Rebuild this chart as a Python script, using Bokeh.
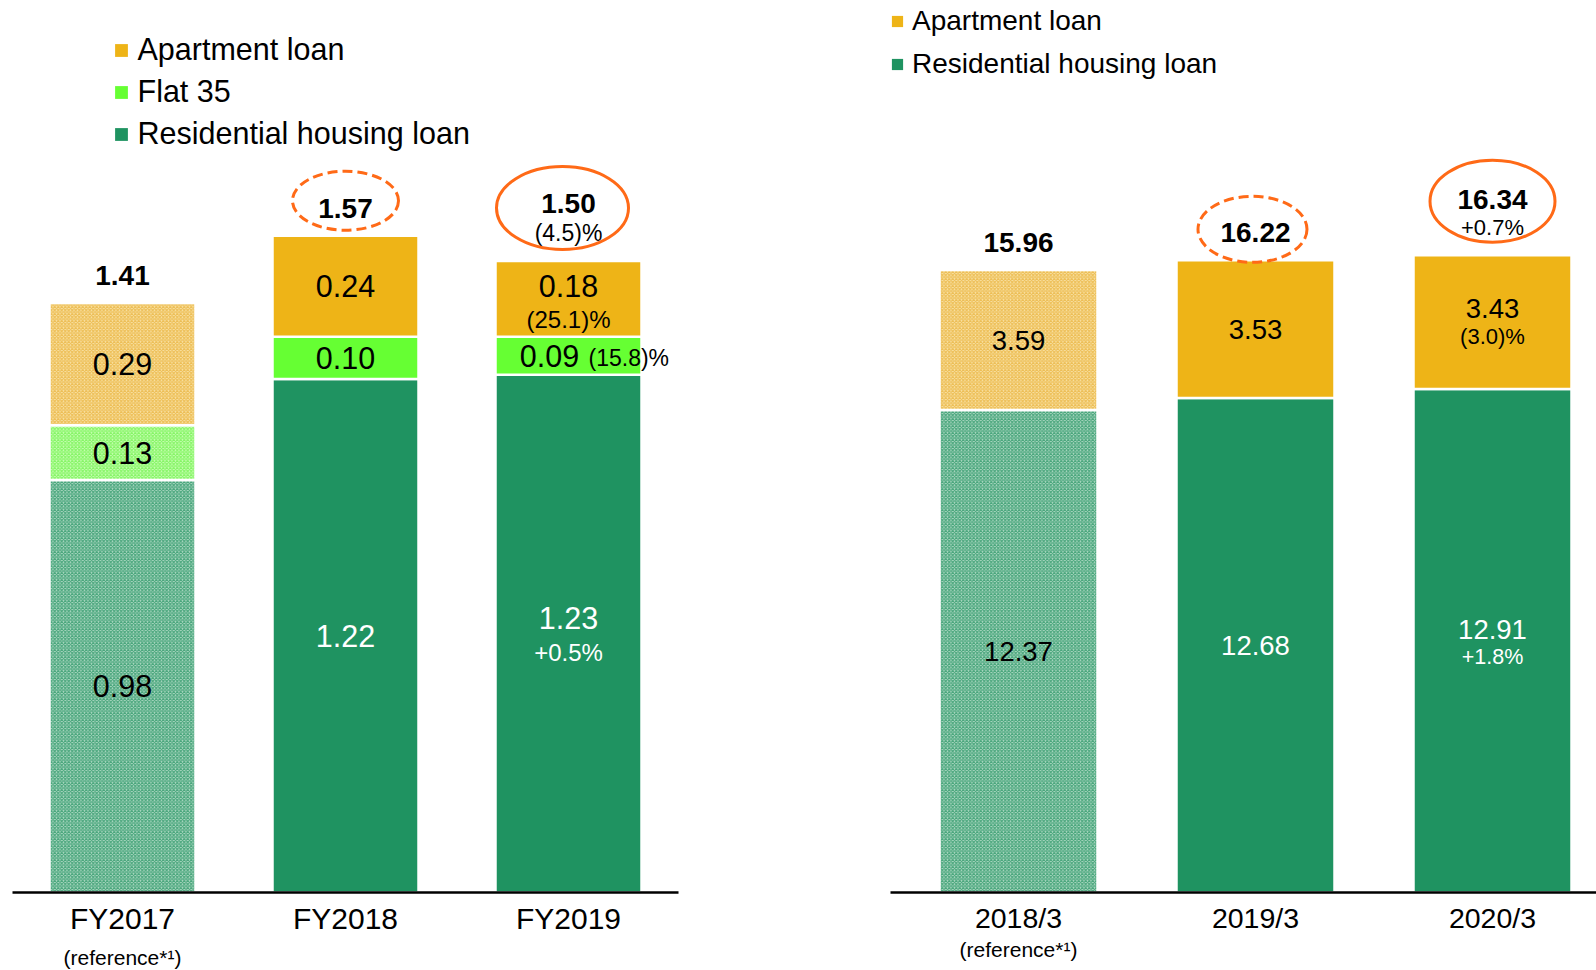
from bokeh.plotting import figure
from bokeh.models import Range1d, FixedTicker, Legend, LegendItem, LinearAxis, ColumnDataSource
from bokeh.layouts import row
from bokeh.embed import file_html
from bokeh.resources import INLINE
from bokeh.core.properties import value

FONT = "Liberation Sans"

# ---------------- data: left panel (fiscal-year amounts) ----------------
fy_labels = ["FY2017", "FY2018", "FY2019"]
fy_resid = [0.98, 1.22, 1.23]
fy_flat35 = [0.13, 0.10, 0.09]
fy_apt = [0.29, 0.24, 0.18]
fy_total_text = ["1.41", "1.57", "1.50"]
fy_resid_chg = ["", "", "+0.5%"]
fy_flat35_chg = ["", "", "(15.8)%"]
fy_apt_chg = ["", "", "(25.1)%"]
fy_total_chg = ["", "", "(4.5)%"]

# ---------------- data: right panel (balances) ----------------
bal_labels = ["2018/3", "2019/3", "2020/3"]
bal_resid = [12.37, 12.68, 12.91]
bal_apt = [3.59, 3.53, 3.43]
bal_total_text = ["15.96", "16.22", "16.34"]
bal_resid_chg = ["", "", "+1.8%"]
bal_apt_chg = ["", "", "(3.0)%"]
bal_total_chg = ["", "", "+0.7%"]

reference_idx = [0]            # reference year drawn with a hatched fill
reference_note = "(reference*¹)"

GREEN = "#1F9361"
GOLD = "#EEB417"
LIME = "#66FF33"
ORANGE = "#FF6A17"
GREEN_L, GREEN_H = "#B2DBC6", "#49A67C"
GOLD_L, GOLD_H = "#F9E3A8", "#EDBE55"
LIME_L, LIME_H = "#CCFFB8", "#86F566"

# ---------------- layout constants ----------------
FRAME_H = 892
L_PPU = 421.0
R_PPU = 39.0
L_YMAX = FRAME_H / L_PPU
R_YMAX = FRAME_H / R_PPU
L_PPX = 223.0
R_PPX = 237.0


def make_fig(frame_w, bl, br, xr, yr, ticks, labels, tick_size, note_size, note_standoff):
    p = figure(frame_width=frame_w, frame_height=FRAME_H, x_range=xr, y_range=yr,
               y_axis_location=None, output_backend="svg", toolbar_location=None,
               min_border_left=bl, min_border_right=br, min_border_top=0,
               min_border_bottom=70)
    p.outline_line_color = None
    p.xgrid.visible = False
    p.ygrid.visible = False
    ax = p.xaxis[0]
    ax.ticker = FixedTicker(ticks=ticks)
    ax.major_label_overrides = {t: s for t, s in zip(ticks, labels)}
    ax.axis_line_color = "black"
    ax.axis_line_width = 2.5
    ax.major_tick_line_color = None
    ax.minor_tick_line_color = None
    ax.major_tick_out = 0
    ax.major_tick_in = 0
    ax.major_label_text_font = FONT
    ax.major_label_text_font_size = tick_size
    ax.major_label_text_color = "black"
    ax.major_label_standoff = 9
    # second row of category labels: the reference-year note
    note_ax = LinearAxis(ticker=FixedTicker(ticks=[ticks[i] for i in reference_idx]),
                         major_label_overrides={ticks[i]: reference_note for i in reference_idx},
                         axis_line_color=None, major_tick_line_color=None,
                         minor_tick_line_color=None, major_tick_out=0, major_tick_in=0,
                         major_label_text_font=FONT, major_label_text_font_size=note_size,
                         major_label_text_color="black", major_label_standoff=note_standoff)
    p.add_layout(note_ax, "below")
    return p


def add_bars(p, xs, segments, width):
    bottoms = [0.0] * len(xs)
    solid_i = [i for i in range(len(xs)) if i not in reference_idx]
    for vals, solid, light, hcol in segments:
        tops = [b + v for b, v in zip(bottoms, vals)]
        p.vbar(x=[xs[i] for i in solid_i], bottom=[bottoms[i] for i in solid_i],
               top=[tops[i] for i in solid_i], width=width,
               fill_color=solid, line_color="white", line_width=2.5)
        p.vbar(x=[xs[i] for i in reference_idx], bottom=[bottoms[i] for i in reference_idx],
               top=[tops[i] for i in reference_idx], width=width,
               fill_color=light, hatch_pattern="diagonal_cross", hatch_color=hcol,
               hatch_scale=3.5, hatch_weight=1.2, line_color="white", line_width=2.5)
        bottoms = tops
    return bottoms


def texts(p, x, y, t, size, color="black", bold=False, align="center"):
    p.text(x=x, y=y, text=t, text_font=value(FONT), text_font_size=size,
           text_color=color, text_align=align, text_baseline="middle",
           text_font_style="bold" if bold else "normal")


def legend_proxy(p, color):
    src = ColumnDataSource(dict(x=[float("nan")], y=[float("nan")]))
    return p.scatter("x", "y", source=src, marker="square", size=0,
                     fill_color=color, line_color=None)


# ======================= LEFT PANEL =======================
xs = list(range(len(fy_labels)))
pL = make_fig(666, 12, 199, Range1d(-110 / L_PPX, 556 / L_PPX), Range1d(0, L_YMAX),
              xs, fy_labels, "30px", "21px", 8)

totL = add_bars(pL, xs, [(fy_resid, GREEN, GREEN_L, GREEN_H),
                         (fy_flat35, LIME, LIME_L, LIME_H),
                         (fy_apt, GOLD, GOLD_L, GOLD_H)], 146 / L_PPX)

# residential labels
res_c = [v / 2 for v in fy_resid]
dy_main = [0, 0, -16]
texts(pL, xs, [c - d / L_PPU for c, d in zip(res_c, dy_main)],
      [f"{v:.2f}" for v in fy_resid], "30.5px",
      color=["black" if i in reference_idx else "white" for i in xs])
texts(pL, xs, [c - 19 / L_PPU for c in res_c], fy_resid_chg, "24px", color="white")

# flat 35 labels
fl_c = [r + f / 2 for r, f in zip(fy_resid, fy_flat35)]
dx_fl = [0, 0, -19]
texts(pL, [x + d / L_PPX for x, d in zip(xs, dx_fl)], fl_c,
      [f"{v:.2f}" for v in fy_flat35], "30.5px")
texts(pL, [x + 20 / L_PPX for x in xs], [c - 2 / L_PPU for c in fl_c], fy_flat35_chg,
      "23px", align="left")

# apartment labels
ap_c = [r + f + a / 2 for r, f, a in zip(fy_resid, fy_flat35, fy_apt)]
dy_ap = [0, 0, -13]
texts(pL, xs, [c - d / L_PPU for c, d in zip(ap_c, dy_ap)],
      [f"{v:.2f}" for v in fy_apt], "30.5px")
texts(pL, xs, [c - 21 / L_PPU for c in ap_c], fy_apt_chg, "24px")

# totals
dy_tot = [28, 27, 58]
texts(pL, xs, [t + d / L_PPU for t, d in zip(totL, dy_tot)], fy_total_text, "28px", bold=True)
texts(pL, xs, [t + 28 / L_PPU for t in totL], fy_total_chg, "23px")

# highlight ellipses
pL.ellipse(x=[1], y=[totL[1] + 35 / L_PPU], width=106, height=59,
           width_units="screen", height_units="screen", fill_color=None,
           line_color=ORANGE, line_width=3, line_dash="10 5")
pL.ellipse(x=[2 - 6 / L_PPX], y=[totL[2] + 53 / L_PPU], width=132, height=83,
           width_units="screen", height_units="screen", fill_color=None,
           line_color=ORANGE, line_width=3)

legL = Legend(items=[LegendItem(label="Apartment loan", renderers=[legend_proxy(pL, GOLD)]),
                     LegendItem(label="Flat 35", renderers=[legend_proxy(pL, LIME)]),
                     LegendItem(label="Residential housing loan", renderers=[legend_proxy(pL, GREEN)])],
              location=(92.5, 741), orientation="vertical",
              glyph_width=32, glyph_height=32, label_height=32, spacing=7,
              label_standoff=1, padding=0, margin=0,
              label_text_font=FONT, label_text_font_size="30.5px", label_text_color="black",
              border_line_color=None, background_fill_alpha=0)
pL.add_layout(legL, "center")

# ======================= RIGHT PANEL =======================
xr = list(range(len(bal_labels)))
pR = make_fig(706, 13, 0, Range1d(-128 / R_PPX, 578 / R_PPX), Range1d(0, R_YMAX),
              xr, bal_labels, "28.5px", "21px", 1)

totR = add_bars(pR, xr, [(bal_resid, GREEN, GREEN_L, GREEN_H),
                         (bal_apt, GOLD, GOLD_L, GOLD_H)], 158 / R_PPX)

res_c = [v / 2 for v in bal_resid]
dy_main = [0, 0, -11]
texts(pR, xr, [c - d / R_PPU for c, d in zip(res_c, dy_main)],
      [f"{v:.2f}" for v in bal_resid], "27.5px",
      color=["black" if i in reference_idx else "white" for i in xr])
texts(pR, xr, [c - 16 / R_PPU for c in res_c], bal_resid_chg, "21.5px", color="white")

ap_c = [r + a / 2 for r, a in zip(bal_resid, bal_apt)]
dy_ap = [0, 0, -14]
texts(pR, xr, [c - d / R_PPU for c, d in zip(ap_c, dy_ap)],
      [f"{v:.2f}" for v in bal_apt], "27.5px")
texts(pR, xr, [c - 14 / R_PPU for c in ap_c], bal_apt_chg, "22px")

dy_tot = [28, 28, 56]
texts(pR, xr, [t + d / R_PPU for t, d in zip(totR, dy_tot)], bal_total_text, "28px", bold=True)
texts(pR, xr, [t + 28 / R_PPU for t in totR], bal_total_chg, "22px")

pR.ellipse(x=[1 - 3 / R_PPX], y=[totR[1] + 31 / R_PPU], width=109, height=66,
           width_units="screen", height_units="screen", fill_color=None,
           line_color=ORANGE, line_width=3, line_dash="10 5")
pR.ellipse(x=[2], y=[totR[2] + 54 / R_PPU], width=125, height=82,
           width_units="screen", height_units="screen", fill_color=None,
           line_color=ORANGE, line_width=3)

legR = Legend(items=[LegendItem(label="Apartment loan", renderers=[legend_proxy(pR, GOLD)]),
                     LegendItem(label="Residential housing loan", renderers=[legend_proxy(pR, GREEN)])],
              location=(-7, 812), orientation="vertical",
              glyph_width=28, glyph_height=28, label_height=28, spacing=11,
              label_standoff=1, padding=0, margin=0,
              label_text_font=FONT, label_text_font_size="28px", label_text_color="black",
              border_line_color=None, background_fill_alpha=0)
pR.add_layout(legR, "center")

layout = row(pL, pR)
open("out.html", "w").write(file_html(layout, INLINE))
